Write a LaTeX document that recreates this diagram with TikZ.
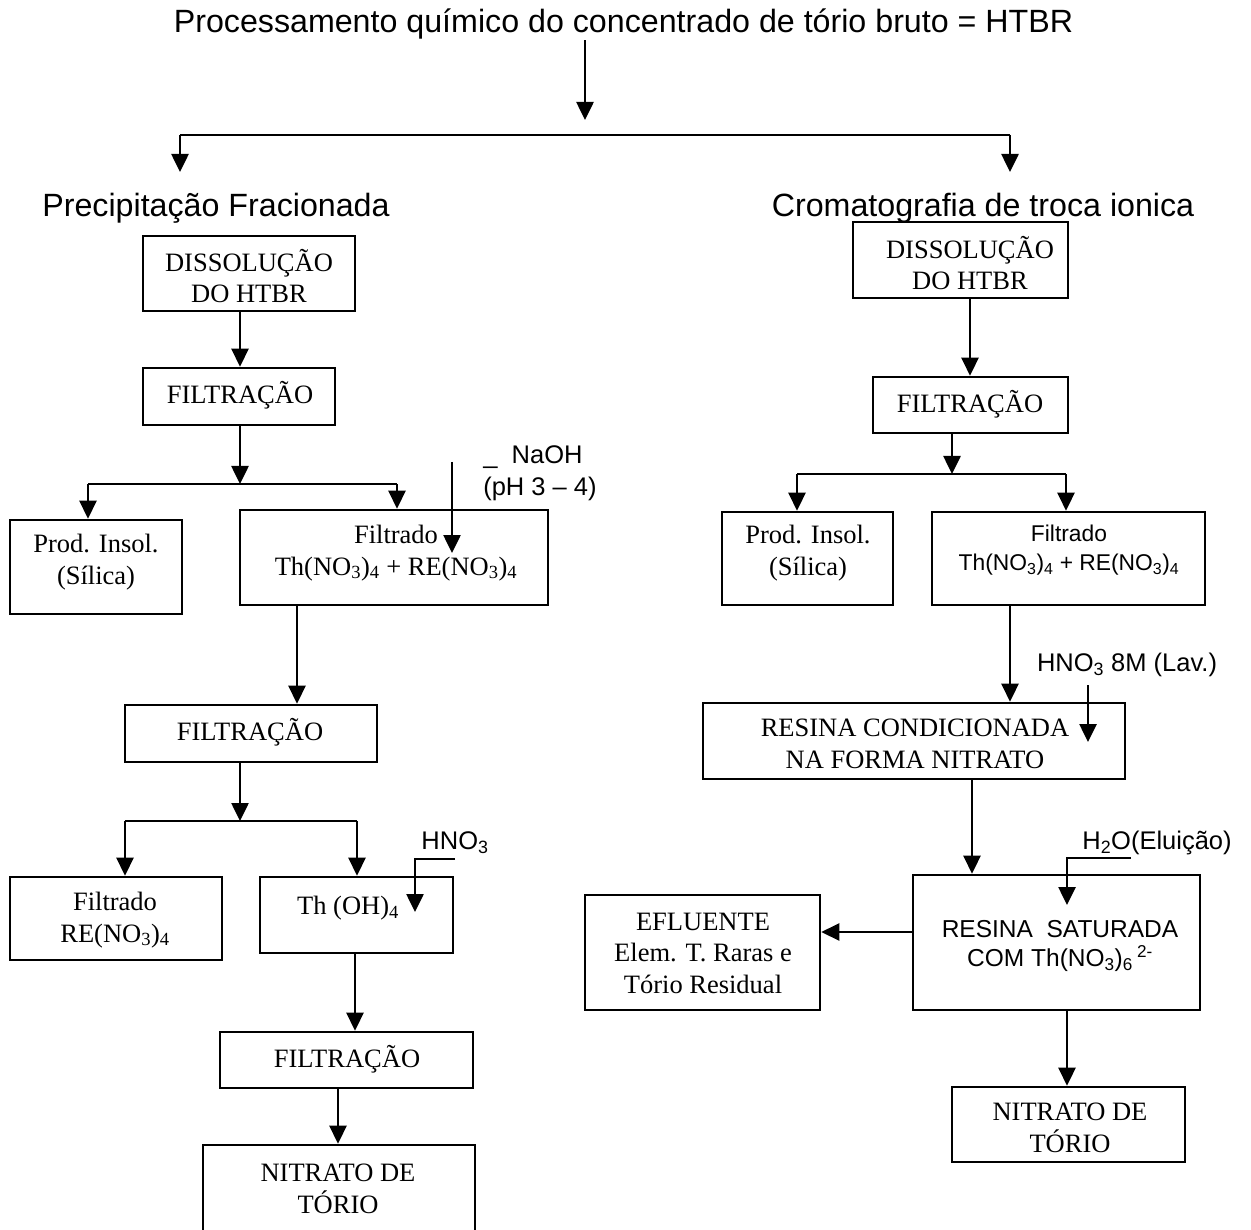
\documentclass[tikz,border=0pt]{standalone}
\usepackage{fontspec}
\setmainfont{Liberation Serif}
\setsansfont{Liberation Sans}
\usetikzlibrary{arrows.meta}
\begin{document}
\begin{tikzpicture}[x=1pt,y=-1pt,
  line width=2.6pt,
  box/.style={draw, rectangle, inner sep=0pt, line width=2.6pt},
  arr/.style={-{Triangle[length=18pt,width=17pt]}},
  rm/.style={font=\fontsize{26.5}{31.5}\selectfont, align=center, inner sep=0pt},
  sf/.style={font=\sffamily\fontsize{24.5}{29.5}\selectfont, align=center, inner sep=0pt},
  reagent/.style={font=\sffamily\fontsize{25.5}{31}\selectfont, align=center, inner sep=0pt},
  head/.style={font=\sffamily\fontsize{32.2}{36}\selectfont, inner sep=0pt}]
\useasboundingbox[fill=white] (0,0) rectangle (1251,1230);

% ---------- title and the two routes ----------
\node[head] (title) at (623.5,24) {Processamento químico do concentrado de tório bruto = HTBR};
\node[head] (lhead) at (216,208) {Precipitação Fracionada};
\node[head] (rhead) at (983,208) {Cromatografia de troca ionica};

\coordinate (tx) at (585,0);
\coordinate (ttip) at (585,120);
\coordinate (tl) at (180,135);
\coordinate (tr) at (1010,135);
\coordinate (tlend) at (180,172);
\coordinate (trend) at (1010,172);
\draw[arr] (tx |- title.south) -- (ttip);
\draw (tl) -- (tr);
\draw[arr] (tl) -- (tlend);
\draw[arr] (tr) -- (trend);

% ---------- left route: boxes ----------
\node[box, minimum width=212pt, minimum height=75pt] (ldiss) at (249,273.5) {};
\node[box, minimum width=192pt, minimum height=57pt] (lfilt1) at (239,396.5) {};
\node[box, minimum width=172pt, minimum height=94pt] (lins) at (96,567) {};
\node[box, minimum width=308pt, minimum height=95pt] (lfiltrado) at (394,557.5) {};
\node[box, minimum width=252pt, minimum height=57pt] (lfilt2) at (251,733.5) {};
\node[box, minimum width=212pt, minimum height=83pt] (lre) at (116,918.5) {};
\node[box, minimum width=193pt, minimum height=76pt] (lth) at (356.5,915) {};
\node[box, minimum width=253pt, minimum height=56pt] (lfilt3) at (346.5,1060) {};
\node[box, minimum width=272pt, minimum height=100pt] (lnit) at (339,1195) {};

\node[rm] (tldiss) at (249,276) {DISSOLUÇÃO\\DO HTBR};
\node[rm] (tlfilt1) at (240,395) {FILTRAÇÃO};
\node[rm] (tlins) at (96,562) {Prod. Insol.\\(Sílica)};
\node[rm] (tlfiltrado) at (396,553) {Filtrado\\Th(NO\textsubscript{3})\textsubscript{4} + RE(NO\textsubscript{3})\textsubscript{4}};
\node[rm] (tlfilt2) at (250,732) {FILTRAÇÃO};
\node[rm] (tlre) at (115,920) {Filtrado\\RE(NO\textsubscript{3})\textsubscript{4}};
\node[rm] (tlth) at (348,908) {Th (OH)\textsubscript{4}};
\node[rm] (tlfilt3) at (347,1059) {FILTRAÇÃO};
\node[rm] (tlnit) at (338,1189) {NITRATO DE\\TÓRIO};

% ---------- left route: connectors ----------
\coordinate (lsp1) at (240,484);
\coordinate (lsp1l) at (88,484);
\coordinate (lsp1r) at (397,484);
\coordinate (lx297) at (297,0);
\coordinate (lsp2) at (240,821);
\coordinate (lsp2l) at (125,821);
\coordinate (lsp2r) at (357,821);
\coordinate (lx355) at (355,0);
\coordinate (lx338) at (338,0);

\draw[arr] (lsp1 |- ldiss.south) -- (lsp1 |- lfilt1.north);
\draw[arr] (lsp1 |- lfilt1.south) -- (lsp1);
\draw (lsp1l) -- (lsp1r);
\draw[arr] (lsp1l) -- (lsp1l |- lins.north);
\draw[arr] (lsp1r) -- (lsp1r |- lfiltrado.north);
\draw[arr] (lx297 |- lfiltrado.south) -- (lx297 |- lfilt2.north);
\draw[arr] (lsp2 |- lfilt2.south) -- (lsp2);
\draw (lsp2l) -- (lsp2r);
\draw[arr] (lsp2l) -- (lsp2l |- lre.north);
\draw[arr] (lsp2r) -- (lsp2r |- lth.north);
\draw[arr] (lx355 |- lth.south) -- (lx355 |- lfilt3.north);
\draw[arr] (lx338 |- lfilt3.south) -- (lx338 |- lnit.north);

% reagent additions on the left
\node[reagent] (naoh) at (533,457) {\_\ \ NaOH};
\node[reagent] (ph) at (540,489) {(pH 3 – 4)};
\coordinate (naohA) at (452,462);
\coordinate (naohB) at (452,553);
\draw[arr] (naohA) -- (naohB);

\node[reagent] (hno) at (455,843) {HNO\textsubscript{3}};
\coordinate (hnoA) at (455,859);
\coordinate (hnoC) at (415,859);
\coordinate (hnoB) at (415,912);
\draw[arr] (hnoA) -- (hnoC) -- (hnoB);

% ---------- right route: boxes ----------
\node[box, minimum width=215pt, minimum height=76pt] (rdiss) at (960.5,260) {};
\node[box, minimum width=195pt, minimum height=56pt] (rfilt) at (970.5,405) {};
\node[box, minimum width=171pt, minimum height=93pt] (rins) at (807.5,558.5) {};
\node[box, minimum width=273pt, minimum height=93pt] (rfiltrado) at (1068.5,558.5) {};
\node[box, minimum width=422pt, minimum height=76pt] (rresc) at (914,741) {};
\node[box, minimum width=287pt, minimum height=135pt] (rress) at (1056.5,942.5) {};
\node[box, minimum width=235pt, minimum height=115pt] (reflu) at (702.5,952.5) {};
\node[box, minimum width=233pt, minimum height=75pt] (rnit) at (1068.5,1124.5) {};

\node[rm] (trdiss) at (970,263) {DISSOLUÇÃO\\DO HTBR};
\node[rm] (trfilt) at (970,404) {FILTRAÇÃO};
\node[rm] (trins) at (808,553) {Prod. Insol.\\(Sílica)};
\node[sf, font=\sffamily\fontsize{22.8}{29}\selectfont] (trfiltrado) at (1069,550) {Filtrado\\Th(NO\textsubscript{3})\textsubscript{4} + RE(NO\textsubscript{3})\textsubscript{4}};
\node[rm] (trresc) at (915,744) {RESINA CONDICIONADA\\NA FORMA NITRATO};
\node[sf] (trress) at (1060,946) {RESINA\ \ SATURADA\\COM Th(NO\textsubscript{3})\textsubscript{6}\,\textsuperscript{2-}};
\node[rm] (treflu) at (703,953) {EFLUENTE\\Elem. T. Raras e\\Tório Residual};
\node[rm] (trnit) at (1070,1128) {NITRATO DE\\TÓRIO};

% ---------- right route: connectors ----------
\coordinate (rx970) at (970,0);
\coordinate (rsp) at (952,474);
\coordinate (rspl) at (797,474);
\coordinate (rspr) at (1066,474);
\coordinate (rx1010) at (1010,0);
\coordinate (rx972) at (972,0);
\coordinate (ry932) at (0,932);
\coordinate (rx1067) at (1067,0);

\draw[arr] (rx970 |- rdiss.south) -- (rx970 |- rfilt.north);
\draw[arr] (rsp |- rfilt.south) -- (rsp);
\draw (rspl) -- (rspr);
\draw[arr] (rspl) -- (rspl |- rins.north);
\draw[arr] (rspr) -- (rspr |- rfiltrado.north);
\draw[arr] (rx1010 |- rfiltrado.south) -- (rx1010 |- rresc.north);
\draw[arr] (rx972 |- rresc.south) -- (rx972 |- rress.north);
\draw[arr] (rress.west |- ry932) -- (reflu.east |- ry932);
\draw[arr] (rx1067 |- rress.south) -- (rx1067 |- rnit.north);

% reagent additions on the right
\node[reagent] (hno8) at (1127,665) {HNO\textsubscript{3} 8M (Lav.)};
\coordinate (hno8A) at (1088,685);
\coordinate (hno8B) at (1088,742);
\draw[arr] (hno8A) -- (hno8B);

\node[reagent] (h2o) at (1157,843) {H\textsubscript{2}O(Eluição)};
\coordinate (h2oA) at (1131,858);
\coordinate (h2oC) at (1067,858);
\coordinate (h2oB) at (1067,905);
\draw[arr] (h2oA) -- (h2oC) -- (h2oB);
\end{tikzpicture}
\end{document}
